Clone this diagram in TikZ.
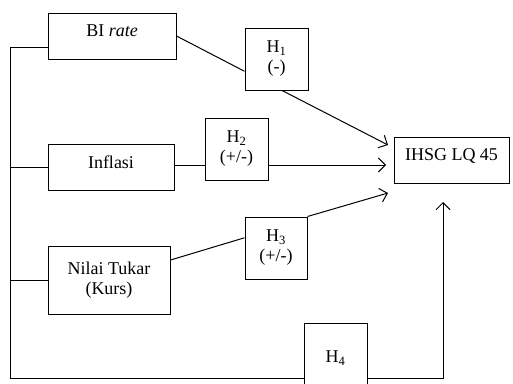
\documentclass[tikz,border=0pt]{standalone}
\usepackage{fontspec}
\setmainfont{Liberation Serif}
\usepackage{tikz}
\usetikzlibrary{arrows.meta}

\begin{document}
\begin{tikzpicture}[x=1pt,y=-1pt,line width=1pt,>={Straight Barb[length=7pt,width=14pt]},
	font=\fontsize{18}{20}\selectfont,
	box/.style={draw,inner sep=2pt,align=center},
	onebox/.style={box,text depth=10pt}]
			\useasboundingbox (0,0) rectangle (513,383);
			\node[onebox,minimum width=128,minimum height=46] (birate) at (112,36) {BI \textit{rate}};
			\node[onebox,minimum width=126,minimum height=46] (inflasi) at (111,167) {Inflasi};
			\node[box,minimum width=122,minimum height=68] (kurs) at (109,280) {Nilai Tukar\\(Kurs)};
			\node[box,minimum width=63,minimum height=62] (h1) at (276.5,59) {H\textsubscript{1}\\(-)};
			\node[box,minimum width=63,minimum height=62] (h2) at (236.5,149) {H\textsubscript{2}\\(+/-)};
			\node[box,minimum width=62,minimum height=62] (h3) at (276,248) {H\textsubscript{3}\\(+/-)};
			\node[box,minimum width=63,minimum height=70] (h4) at (335.5,358) {H\textsubscript{4}};
			\node[onebox,minimum width=115,minimum height=46] (ihsg) at (451.5,160) {IHSG LQ 45};
			\coordinate (c1) at (10,47);
			\coordinate (c4) at (10,378);
			\coordinate (t1) at (388,145);
			\coordinate (t2) at (386,165);
			\coordinate (t3) at (388,193);
			\coordinate (t4) at (443,202);
			\draw (birate.west |- c1) -- (c1) -- (c4) -- (h4.west |- c4);
			\draw (inflasi.west) -- (inflasi.west -| c1);
			\draw (kurs.west) -- (kurs.west -| c1);
			\draw (birate.east) -- (h1.201);
			\draw (inflasi.east |- t2) -- (h2.west |- t2);
			\draw (kurs.18) -- (h3.162);
			\draw[->] (h1.-80) -- (t1);
			\draw[->] (h2.east |- t2) -- (t2);
			\draw[->] (h3.north east) -- (t3);
			\draw[->] (h4.east |- c4) -- (t4 |- c4) -- (t4);
		\end{tikzpicture}
\end{document}
